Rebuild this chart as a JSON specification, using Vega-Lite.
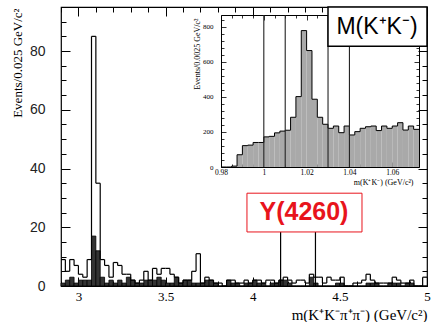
{
  "$schema": "https://vega.github.io/schema/vega-lite/v6.json",
  "width": 366,
  "height": 279,
  "autosize": {"type": "none"},
  "padding": {"left": 61, "top": 7, "right": 9, "bottom": 36},
  "background": "white",
  "datasets": {
    "main": [
      {"lo":2.900,"hi":2.925,"total":9,"side":1},{"lo":2.925,"hi":2.950,"total":5,"side":2},{"lo":2.950,"hi":2.975,"total":9,"side":3},{"lo":2.975,"hi":3.000,"total":7,"side":1},
      {"lo":3.000,"hi":3.025,"total":4,"side":2},{"lo":3.025,"hi":3.050,"total":3,"side":2},{"lo":3.050,"hi":3.075,"total":9,"side":2},{"lo":3.075,"hi":3.100,"total":85,"side":17},
      {"lo":3.100,"hi":3.125,"total":35,"side":12},{"lo":3.125,"hi":3.150,"total":9,"side":3},{"lo":3.150,"hi":3.175,"total":7,"side":1},{"lo":3.175,"hi":3.200,"total":3,"side":2},
      {"lo":3.200,"hi":3.225,"total":8,"side":1},{"lo":3.225,"hi":3.250,"total":7,"side":2},{"lo":3.250,"hi":3.275,"total":4,"side":1},{"lo":3.275,"hi":3.300,"total":4,"side":3},
      {"lo":3.300,"hi":3.325,"total":2,"side":2},{"lo":3.325,"hi":3.350,"total":1,"side":1},{"lo":3.350,"hi":3.375,"total":2,"side":1},{"lo":3.375,"hi":3.400,"total":5,"side":2},
      {"lo":3.400,"hi":3.425,"total":2,"side":2},{"lo":3.425,"hi":3.450,"total":6,"side":2},{"lo":3.450,"hi":3.475,"total":4,"side":3},{"lo":3.475,"hi":3.500,"total":6,"side":2},
      {"lo":3.500,"hi":3.525,"total":6,"side":1},{"lo":3.525,"hi":3.550,"total":4,"side":1},{"lo":3.550,"hi":3.575,"total":3,"side":3},{"lo":3.575,"hi":3.600,"total":1,"side":1},
      {"lo":3.600,"hi":3.625,"total":2,"side":2},{"lo":3.625,"hi":3.650,"total":2,"side":2},{"lo":3.650,"hi":3.675,"total":5,"side":1},{"lo":3.675,"hi":3.700,"total":11,"side":1},
      {"lo":3.700,"hi":3.725,"total":1,"side":1},{"lo":3.725,"hi":3.750,"total":3,"side":2},{"lo":3.750,"hi":3.775,"total":2,"side":2},{"lo":3.775,"hi":3.800,"total":1,"side":1},
      {"lo":3.800,"hi":3.825,"total":1,"side":0},{"lo":3.825,"hi":3.850,"total":0,"side":0},{"lo":3.850,"hi":3.875,"total":2,"side":2},{"lo":3.875,"hi":3.900,"total":2,"side":1},
      {"lo":3.900,"hi":3.925,"total":1,"side":1},{"lo":3.925,"hi":3.950,"total":1,"side":0},{"lo":3.950,"hi":3.975,"total":2,"side":1},{"lo":3.975,"hi":4.000,"total":1,"side":1},
      {"lo":4.000,"hi":4.025,"total":2,"side":2},{"lo":4.025,"hi":4.050,"total":2,"side":1},{"lo":4.050,"hi":4.075,"total":1,"side":1},{"lo":4.075,"hi":4.100,"total":2,"side":0},
      {"lo":4.100,"hi":4.125,"total":2,"side":1},{"lo":4.125,"hi":4.150,"total":1,"side":1},{"lo":4.150,"hi":4.175,"total":2,"side":2},{"lo":4.175,"hi":4.200,"total":3,"side":2},
      {"lo":4.200,"hi":4.225,"total":2,"side":1},{"lo":4.225,"hi":4.250,"total":1,"side":0},{"lo":4.250,"hi":4.275,"total":2,"side":0},{"lo":4.275,"hi":4.300,"total":2,"side":0},
      {"lo":4.300,"hi":4.325,"total":1,"side":0},{"lo":4.325,"hi":4.350,"total":4,"side":3},{"lo":4.350,"hi":4.375,"total":3,"side":1},{"lo":4.375,"hi":4.400,"total":3,"side":0},
      {"lo":4.400,"hi":4.425,"total":1,"side":0},{"lo":4.425,"hi":4.450,"total":3,"side":0},{"lo":4.450,"hi":4.475,"total":2,"side":0},{"lo":4.475,"hi":4.500,"total":2,"side":1},
      {"lo":4.500,"hi":4.525,"total":3,"side":1},{"lo":4.525,"hi":4.550,"total":0,"side":0},{"lo":4.550,"hi":4.575,"total":0,"side":0},{"lo":4.575,"hi":4.600,"total":1,"side":0},
      {"lo":4.600,"hi":4.625,"total":1,"side":0},{"lo":4.625,"hi":4.650,"total":2,"side":0},{"lo":4.650,"hi":4.675,"total":4,"side":1},{"lo":4.675,"hi":4.700,"total":2,"side":1},
      {"lo":4.700,"hi":4.725,"total":1,"side":1},{"lo":4.725,"hi":4.750,"total":1,"side":0},{"lo":4.750,"hi":4.775,"total":1,"side":0},{"lo":4.775,"hi":4.800,"total":1,"side":1},
      {"lo":4.800,"hi":4.825,"total":3,"side":1},{"lo":4.825,"hi":4.850,"total":2,"side":1},{"lo":4.850,"hi":4.875,"total":1,"side":0},{"lo":4.875,"hi":4.900,"total":1,"side":1},
      {"lo":4.900,"hi":4.925,"total":2,"side":1},{"lo":4.925,"hi":4.950,"total":0,"side":0},{"lo":4.950,"hi":4.975,"total":0,"side":0},{"lo":4.975,"hi":5.000,"total":3,"side":0}
    ],
    "inset": [
      {"lo":0.9800,"hi":0.9825,"n":0},{"lo":0.9825,"hi":0.9850,"n":0},{"lo":0.9850,"hi":0.9875,"n":5},{"lo":0.9875,"hi":0.9900,"n":70},
      {"lo":0.9900,"hi":0.9925,"n":122},{"lo":0.9925,"hi":0.9950,"n":125},{"lo":0.9950,"hi":0.9975,"n":140},{"lo":0.9975,"hi":1.0000,"n":140},
      {"lo":1.0000,"hi":1.0025,"n":172},{"lo":1.0025,"hi":1.0050,"n":175},{"lo":1.0050,"hi":1.0075,"n":195},{"lo":1.0075,"hi":1.0100,"n":205},
      {"lo":1.0100,"hi":1.0125,"n":210},{"lo":1.0125,"hi":1.0150,"n":284},{"lo":1.0150,"hi":1.0175,"n":402},{"lo":1.0175,"hi":1.0200,"n":779},
      {"lo":1.0200,"hi":1.0225,"n":665},{"lo":1.0225,"hi":1.0250,"n":387},{"lo":1.0250,"hi":1.0275,"n":284},{"lo":1.0275,"hi":1.0300,"n":244},
      {"lo":1.0300,"hi":1.0325,"n":221},{"lo":1.0325,"hi":1.0350,"n":234},{"lo":1.0350,"hi":1.0375,"n":196},{"lo":1.0375,"hi":1.0400,"n":234},
      {"lo":1.0400,"hi":1.0425,"n":183},{"lo":1.0425,"hi":1.0450,"n":202},{"lo":1.0450,"hi":1.0475,"n":221},{"lo":1.0475,"hi":1.0500,"n":230},
      {"lo":1.0500,"hi":1.0525,"n":234},{"lo":1.0525,"hi":1.0550,"n":208},{"lo":1.0550,"hi":1.0575,"n":234},{"lo":1.0575,"hi":1.0600,"n":221},
      {"lo":1.0600,"hi":1.0625,"n":234},{"lo":1.0625,"hi":1.0650,"n":253},{"lo":1.0650,"hi":1.0675,"n":211},{"lo":1.0675,"hi":1.0700,"n":234},
      {"lo":1.0700,"hi":1.0725,"n":215}
    ],
    "ywin": [{"m": 4.16}, {"m": 4.36}],
    "cuts": [{"c": 1.00}, {"c": 1.01}, {"c": 1.03}, {"c": 1.04}]
  },
  "layer": [
    {
      "data": {"name": "main"},
      "mark": {"type": "rect", "fill": "#333333", "stroke": "black", "strokeWidth": 0.8},
      "encoding": {
        "x": {"field": "lo", "type": "quantitative", "scale": {"domain": [2.9, 5.0], "nice": false, "zero": false}, "axis": null},
        "x2": {"field": "hi"},
        "y": {"field": "side", "type": "quantitative", "scale": {"domain": [0, 95], "nice": false}, "axis": null}
      }
    },
    {
      "data": {"name": "main"},
      "mark": {"type": "rule", "stroke": "black", "strokeWidth": 1.2},
      "encoding": {
        "x": {"field": "lo", "type": "quantitative", "scale": {"domain": [2.9, 5.0], "nice": false, "zero": false},
          "axis": {"orient": "bottom", "values": [2.9,3,3.1,3.2,3.3,3.4,3.5,3.6,3.7,3.8,3.9,4,4.1,4.2,4.3,4.4,4.5,4.6,4.7,4.8,4.9,5],
            "domain": false, "grid": false, "tickColor": "black", "tickWidth": 1,
            "tickSize": {"condition": {"test": "abs(datum.value*2 - round(datum.value*2)) < 0.001", "value": -9}, "value": -5},
            "labelExpr": "abs(datum.value*2 - round(datum.value*2)) < 0.001 ? toString(round(datum.value*10)/10) : ''",
            "labelFont": "Liberation Serif", "labelFontSize": 13, "labelColor": "black", "labelPadding": 13, "labelFlush": false, "labelOverlap": false,
            "title": "m(K⁺K⁻π⁺π⁻) (GeV/c²)", "titleFont": "Liberation Serif", "titleFontSize": 15, "titleFontWeight": "normal", "titleColor": "black",
            "titleX": 366, "titleY": 28, "titleAlign": "right", "titleBaseline": "middle"}},
        "x2": {"field": "hi"},
        "y": {"field": "total", "type": "quantitative", "scale": {"domain": [0, 95], "nice": false},
          "axis": {"orient": "left", "values": [0,5,10,15,20,25,30,35,40,45,50,55,60,65,70,75,80,85,90,95],
            "domain": false, "grid": false, "tickColor": "black", "tickWidth": 1,
            "tickSize": {"condition": {"test": "datum.value % 20 == 0", "value": -9}, "value": -5},
            "labelExpr": "datum.value % 20 == 0 ? toString(datum.value) : ''",
            "labelFont": "Liberation Sans", "labelFontSize": 14, "labelColor": "#222222", "labelPadding": 25, "labelOverlap": false,
            "title": "Events/0.025 GeV/c²", "titleFont": "Liberation Serif", "titleFontSize": 13, "titleFontWeight": "normal", "titleColor": "black",
            "titleX": -40, "titleY": 1, "titleAngle": -90, "titleAlign": "right", "titleBaseline": "alphabetic"}}
      }
    },
    {
      "data": {"name": "main"},
      "transform": [{"window": [{"op": "lag", "field": "total", "as": "prev"}], "sort": [{"field": "lo"}]}],
      "mark": {"type": "rule", "stroke": "black", "strokeWidth": 1.2},
      "encoding": {
        "x": {"field": "lo", "type": "quantitative", "scale": {"domain": [2.9, 5.0], "nice": false, "zero": false},
          "axis": {"orient": "top", "values": [2.9,3,3.1,3.2,3.3,3.4,3.5,3.6,3.7,3.8,3.9,4,4.1,4.2,4.3,4.4,4.5,4.6,4.7,4.8,4.9,5],
            "domain": false, "grid": false, "labels": false, "title": null, "tickColor": "black", "tickWidth": 1,
            "tickSize": {"condition": {"test": "abs(datum.value*2 - round(datum.value*2)) < 0.001", "value": -9}, "value": -5}}},
        "y": {"field": "total", "type": "quantitative", "scale": {"domain": [0, 95], "nice": false},
          "axis": {"orient": "right", "values": [0,5,10,15,20,25,30,35,40,45,50,55,60,65,70,75,80,85,90,95],
            "domain": false, "grid": false, "labels": false, "title": null, "tickColor": "black", "tickWidth": 1,
            "tickSize": {"condition": {"test": "datum.value % 20 == 0", "value": -9}, "value": -5}}},
        "y2": {"field": "prev"}
      }
    },
    {
      "data": {"name": "ywin"},
      "mark": {"type": "rule", "stroke": "black", "strokeWidth": 1.2},
      "encoding": {
        "x": {"field": "m", "type": "quantitative", "scale": {"domain": [2.9, 5.0], "nice": false, "zero": false}, "axis": null},
        "y": {"datum": 0, "type": "quantitative", "scale": {"domain": [0, 95], "nice": false}, "axis": null},
        "y2": {"datum": 19}
      }
    },
    {
      "data": {"values": [{"a": 3.967, "b": 4.627, "c": 18.4, "d": 31.6}]},
      "mark": {"type": "rect", "fill": "white", "stroke": "#e8141c", "strokeWidth": 1},
      "encoding": {
        "x": {"field": "a", "type": "quantitative", "scale": {"domain": [2.9, 5.0], "nice": false, "zero": false}, "axis": null},
        "x2": {"field": "b"},
        "y": {"field": "c", "type": "quantitative", "scale": {"domain": [0, 95], "nice": false}, "axis": null},
        "y2": {"field": "d"}
      }
    },
    {
      "data": {"values": [{"a": 4.294, "c": 25.3}]},
      "mark": {"type": "text", "text": "Y(4260)", "font": "Liberation Sans", "fontSize": 25, "fontWeight": "bold", "fill": "#e8141c", "align": "center", "baseline": "middle"},
      "encoding": {
        "x": {"field": "a", "type": "quantitative", "scale": {"domain": [2.9, 5.0], "nice": false, "zero": false}, "axis": null},
        "y": {"field": "c", "type": "quantitative", "scale": {"domain": [0, 95], "nice": false}, "axis": null}
      }
    },
    {
      "data": {"name": "inset"},
      "mark": {"type": "rect", "fill": "#a9a9a9", "strokeWidth": 0},
      "encoding": {
        "x": {"field": "lo", "type": "quantitative", "scale": {"domain": [0.98, 1.0725], "range": [160, 358], "nice": false, "zero": false},
          "axis": {"orient": "bottom", "offset": -119, "values": [0.98,0.985,0.99,0.995,1,1.005,1.01,1.015,1.02,1.025,1.03,1.035,1.04,1.045,1.05,1.055,1.06,1.065,1.07],
            "domain": true, "domainColor": "black", "domainWidth": 1, "grid": false, "tickColor": "black", "tickWidth": 0.8,
            "tickSize": {"condition": {"test": "abs(datum.value*50 - round(datum.value*50)) < 0.001", "value": -5}, "value": -3},
            "labelExpr": "abs(datum.value*50 - round(datum.value*50)) < 0.001 ? toString(round(datum.value*100)/100) : ''",
            "labelFont": "Liberation Serif", "labelFontSize": 7.5, "labelColor": "black", "labelPadding": 6, "labelFlush": false, "labelOverlap": false,
            "title": "m(K⁺K⁻) (GeV/c²)", "titleFont": "Liberation Serif", "titleFontSize": 8, "titleFontWeight": "normal", "titleColor": "black",
            "titleX": 352, "titleY": 15, "titleAlign": "right", "titleBaseline": "middle"}},
        "x2": {"field": "hi"},
        "y": {"field": "n", "type": "quantitative", "scale": {"domain": [0, 868], "range": [160, 8], "nice": false},
          "axis": {"orient": "left", "offset": -160, "values": [0,40,80,120,160,200,240,280,320,360,400,440,480,520,560,600,640,680,720,760,800,840],
            "domain": true, "domainColor": "black", "domainWidth": 1, "grid": false, "tickColor": "black", "tickWidth": 0.8,
            "tickSize": {"condition": {"test": "datum.value % 200 == 0", "value": -5}, "value": -3},
            "labelExpr": "datum.value % 200 == 0 ? toString(datum.value) : ''",
            "labelFont": "Liberation Serif", "labelFontSize": 7, "labelColor": "black", "labelPadding": 13, "labelOverlap": false,
            "title": "Events/0.0025 GeV/c²", "titleFont": "Liberation Serif", "titleFontSize": 8, "titleFontWeight": "normal", "titleColor": "black",
            "titleX": -24, "titleY": 11, "titleAngle": -90, "titleAlign": "right", "titleBaseline": "middle"}}
      }
    },
    {
      "data": {"name": "inset"},
      "mark": {"type": "rule", "stroke": "black", "strokeWidth": 1},
      "encoding": {
        "x": {"field": "lo", "type": "quantitative", "scale": {"domain": [0.98, 1.0725], "range": [160, 358], "nice": false, "zero": false},
          "axis": {"orient": "top", "offset": -8, "values": [0.98,0.985,0.99,0.995,1,1.005,1.01,1.015,1.02,1.025,1.03,1.035,1.04,1.045,1.05,1.055,1.06,1.065,1.07],
            "domain": true, "domainColor": "black", "domainWidth": 1, "grid": false, "labels": false, "title": null, "tickColor": "black", "tickWidth": 0.8,
            "tickSize": {"condition": {"test": "abs(datum.value*50 - round(datum.value*50)) < 0.001", "value": -5}, "value": -3}}},
        "x2": {"field": "hi"},
        "y": {"field": "n", "type": "quantitative", "scale": {"domain": [0, 868], "range": [160, 8], "nice": false},
          "axis": {"orient": "right", "offset": -8, "values": [0,40,80,120,160,200,240,280,320,360,400,440,480,520,560,600,640,680,720,760,800,840],
            "domain": true, "domainColor": "black", "domainWidth": 1, "grid": false, "labels": false, "title": null, "tickColor": "black", "tickWidth": 0.8,
            "tickSize": {"condition": {"test": "datum.value % 200 == 0", "value": -5}, "value": -3}}}
      }
    },
    {
      "data": {"name": "inset"},
      "transform": [{"window": [{"op": "lag", "field": "n", "as": "prev"}], "sort": [{"field": "lo"}]}],
      "mark": {"type": "rule", "stroke": "black", "strokeWidth": 1},
      "encoding": {
        "x": {"field": "lo", "type": "quantitative", "scale": {"domain": [0.98, 1.0725], "range": [160, 358], "nice": false, "zero": false}, "axis": null},
        "y": {"field": "n", "type": "quantitative", "scale": {"domain": [0, 868], "range": [160, 8], "nice": false}, "axis": null},
        "y2": {"field": "prev"}
      }
    },
    {
      "data": {"name": "cuts"},
      "mark": {"type": "rule", "stroke": "#222222", "strokeWidth": 1.1},
      "encoding": {
        "x": {"field": "c", "type": "quantitative", "scale": {"domain": [0.98, 1.0725], "range": [160, 358], "nice": false, "zero": false}, "axis": null},
        "y": {"datum": 0, "type": "quantitative", "scale": {"domain": [0, 868], "range": [160, 8], "nice": false}, "axis": null},
        "y2": {"datum": 868}
      }
    },
    {
      "data": {"values": [{"a": 4.432, "b": 5.0, "c": 81.6, "d": 95}]},
      "mark": {"type": "rect", "fill": "white", "stroke": "black", "strokeWidth": 1.5},
      "encoding": {
        "x": {"field": "a", "type": "quantitative", "scale": {"domain": [2.9, 5.0], "nice": false, "zero": false}, "axis": null},
        "x2": {"field": "b"},
        "y": {"field": "c", "type": "quantitative", "scale": {"domain": [0, 95], "nice": false}, "axis": null},
        "y2": {"field": "d"}
      }
    },
    {
      "data": {"values": [{"a": 4.713, "c": 88.1}]},
      "mark": {"type": "text", "text": "M(K⁺K⁻)", "font": "Liberation Sans", "fontSize": 23, "fill": "black", "align": "center", "baseline": "middle"},
      "encoding": {
        "x": {"field": "a", "type": "quantitative", "scale": {"domain": [2.9, 5.0], "nice": false, "zero": false}, "axis": null},
        "y": {"field": "c", "type": "quantitative", "scale": {"domain": [0, 95], "nice": false}, "axis": null}
      }
    }
  ],
  "resolve": {"scale": {"x": "independent", "y": "independent"}, "axis": {"x": "independent", "y": "independent"}},
  "config": {
    "view": {"stroke": "black", "strokeWidth": 1.2},
    "axis": {"grid": false}
  }
}
